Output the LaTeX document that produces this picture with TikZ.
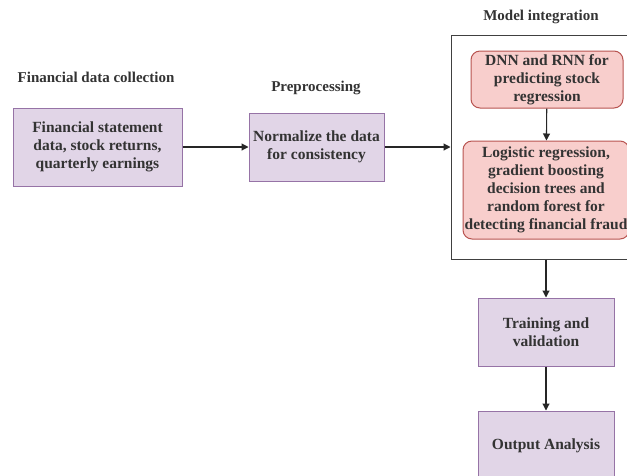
\documentclass[tikz,border=0pt]{standalone}
\usepackage{fontspec}
\setmainfont{Liberation Serif}
\usetikzlibrary{arrows.meta}
\definecolor{pfill}{HTML}{E1D5E7}
\definecolor{pdraw}{HTML}{9673A6}
\definecolor{rfill}{HTML}{F8CECC}
\definecolor{rdraw}{HTML}{B85450}
\definecolor{tcol}{HTML}{333333}
\begin{document}
\begin{tikzpicture}[x=1pt,y=-1pt,
  pbox/.style={draw=pdraw,fill=pfill,line width=1pt,align=center,font=\bfseries\fontsize{15.5}{18}\selectfont,text=tcol,inner sep=0pt},
  rbox/.style={draw=rdraw,fill=rfill,line width=1pt,rounded corners=9pt,align=center,font=\bfseries\fontsize{15.5}{18}\selectfont,text=tcol,inner sep=0pt},
  ttl/.style={font=\bfseries\fontsize{15}{17}\selectfont,text=tcol},
  arr/.style={-{Triangle[length=7pt,width=7pt]},line width=1.1pt,draw=black!85}]
\useasboundingbox (0,0) rectangle (627,475);
\clip (0,0) rectangle (627,475);
\fill[white] (0,0) rectangle (627,475);
\node[ttl] (t1) at (96,77) {Financial data collection};
\node[ttl] (t2) at (316,88) {Preprocessing};
\node[ttl] (t3) at (541,17) {Model integration};
\node[pbox,minimum width=169pt,minimum height=78pt] (b1) at (97.5,147) {Financial statement\\data, stock returns,\\quarterly earnings};
\node[pbox,minimum width=135pt,minimum height=68pt] (b2) at (316.5,147) {Normalize the data\\for consistency};
\node[draw=black!75,line width=1pt,minimum width=190pt,minimum height=224pt,inner sep=0pt] (c) at (546,147) {};
\node[rbox,minimum width=152pt,minimum height=57pt] (r1) at (547,79.5) {DNN and RNN for\\predicting stock\\regression};
\node[rbox,minimum width=166pt,minimum height=98pt] (r2) at (546,190) {Logistic regression,\\gradient boosting\\decision trees and\\random forest for\\detecting financial fraud};
\node[pbox,minimum width=136pt,minimum height=68pt] (b3) at (546,332) {Training and\\validation};
\node[pbox,minimum width=136pt,minimum height=70pt] (b4) at (546,446) {Output Analysis};
\draw[arr] (b1) -- (b2);
\draw[arr] (b2) -- (b2 -| c.west);
\draw[arr] (r1) -- (r2);
\draw[arr] (c.south -| b3) -- (b3);
\draw[arr] (b3) -- (b4);
\end{tikzpicture}
\end{document}
